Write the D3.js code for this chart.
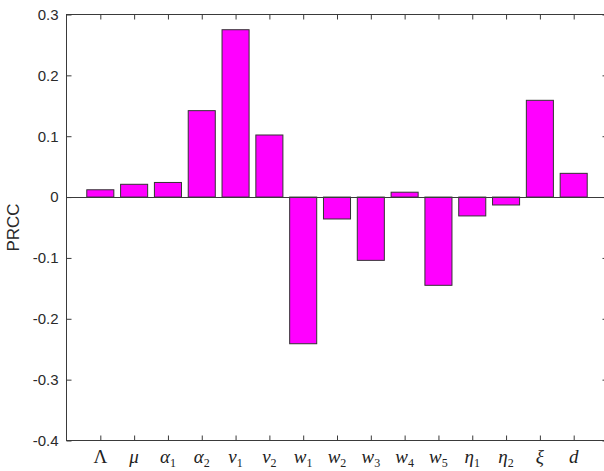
<!DOCTYPE html>
<html>
<head>
<meta charset="utf-8">
<script src="https://cdn.jsdelivr.net/npm/d3@7"></script>
<style>
  html, body { margin: 0; padding: 0; background: #fff; }
  svg { display: block; }
</style>
</head>
<body>
<svg id="chart" width="604" height="471"></svg>
<script>
// ---- data ----
const symbols    = ["Λ", "μ", "α", "α", "v", "v", "w", "w", "w", "w", "w", "η", "η", "ξ", "d"];
const subscripts = ["", "", "1", "2", "1", "2", "1", "2", "3", "4", "5", "1", "2", "", ""];
const prcc = [0.012, 0.021, 0.024, 0.142, 0.275, 0.102, -0.241, -0.036, -0.104, 0.008, -0.145, -0.031, -0.013, 0.159, 0.039];
const yTicks = [-0.4, -0.3, -0.2, -0.1, 0, 0.1, 0.2, 0.3];
const yTickLabels = ["-0.4", "-0.3", "-0.2", "-0.1", "0", "0.1", "0.2", "0.3"];
const yLabel = "PRCC";

// ---- layout ----
const svg = d3.select("#chart");
const L = 66.5, T = 14.5, R = 607.5, B = 440.5;
const idx = d3.range(1, prcc.length + 1);

const x = d3.scaleLinear().domain([0, prcc.length + 1]).range([L, R]);
const y = d3.scaleLinear().domain([-0.4, 0.3]).range([B, T]);
const step = x(1) - x(0);
const bw = step * 0.8;
const axisColor = "#3a3a3a";

// bars
svg.append("g").selectAll("rect")
  .data(prcc)
  .join("rect")
  .attr("x", (d, i) => x(i + 1) - bw / 2)
  .attr("width", bw)
  .attr("y", d => y(Math.max(0, d)))
  .attr("height", d => Math.abs(y(d) - y(0)))
  .attr("fill", "#ff00ff")
  .attr("stroke", "#333")
  .attr("stroke-width", 1);

// zero baseline
svg.append("line")
  .attr("x1", L).attr("x2", R)
  .attr("y1", Math.round(y(0)) + 0.5).attr("y2", Math.round(y(0)) + 0.5)
  .attr("stroke", axisColor).attr("stroke-width", 1);

// frame
svg.append("rect")
  .attr("x", L).attr("y", T).attr("width", R - L).attr("height", B - T)
  .attr("fill", "none").attr("stroke", axisColor).attr("stroke-width", 1);

// axes (ticks inward)
const tickLen = 5;
const xAxisB = d3.axisBottom(x).tickValues(idx).tickSize(-tickLen).tickFormat("");
const xAxisT = d3.axisTop(x).tickValues(idx).tickSize(-tickLen).tickFormat("");
const yAxisL = d3.axisLeft(y).tickValues(yTicks).tickSize(-tickLen).tickPadding(8)
  .tickFormat((d, i) => yTickLabels[i]);
const yAxisR = d3.axisRight(y).tickValues(yTicks).tickSize(-tickLen).tickFormat("");

function styleAxis(g) {
  g.select(".domain").remove();
  g.selectAll(".tick line").attr("stroke", axisColor);
  g.selectAll("text").attr("fill", "#2a2a2a")
    .attr("font-family", "Liberation Sans, Arial, sans-serif").attr("font-size", 15);
}
svg.append("g").attr("transform", `translate(0,${B})`).call(xAxisB).call(styleAxis);
svg.append("g").attr("transform", `translate(0,${T})`).call(xAxisT).call(styleAxis);
svg.append("g").attr("transform", `translate(${L},0)`).call(yAxisL).call(styleAxis);
svg.append("g").attr("transform", `translate(${R},0)`).call(yAxisR).call(styleAxis);

// x category labels (math style)
const lab = svg.append("g").selectAll("text")
  .data(symbols.map((s, i) => ({ s, sub: subscripts[i], i })))
  .join("text")
  .attr("x", d => x(d.i + 1))
  .attr("y", 463)
  .attr("text-anchor", "middle")
  .attr("font-family", "Liberation Serif, Times New Roman, serif")
  .attr("font-size", 19)
  .attr("fill", "#222");
lab.append("tspan")
  .attr("font-style", d => d.s === "Λ" ? "normal" : "italic")
  .text(d => d.s);
lab.filter(d => d.sub !== "")
  .append("tspan")
  .attr("font-size", 12)
  .attr("dy", 4)
  .text(d => d.sub);

// y label
svg.append("text")
  .attr("transform", `translate(${19},${(T + B) / 2}) rotate(-90)`)
  .attr("text-anchor", "middle")
  .attr("font-family", "Liberation Sans, Arial, sans-serif")
  .attr("font-size", 17)
  .attr("fill", "#2a2a2a")
  .text(yLabel);
</script>
</body>
</html>
